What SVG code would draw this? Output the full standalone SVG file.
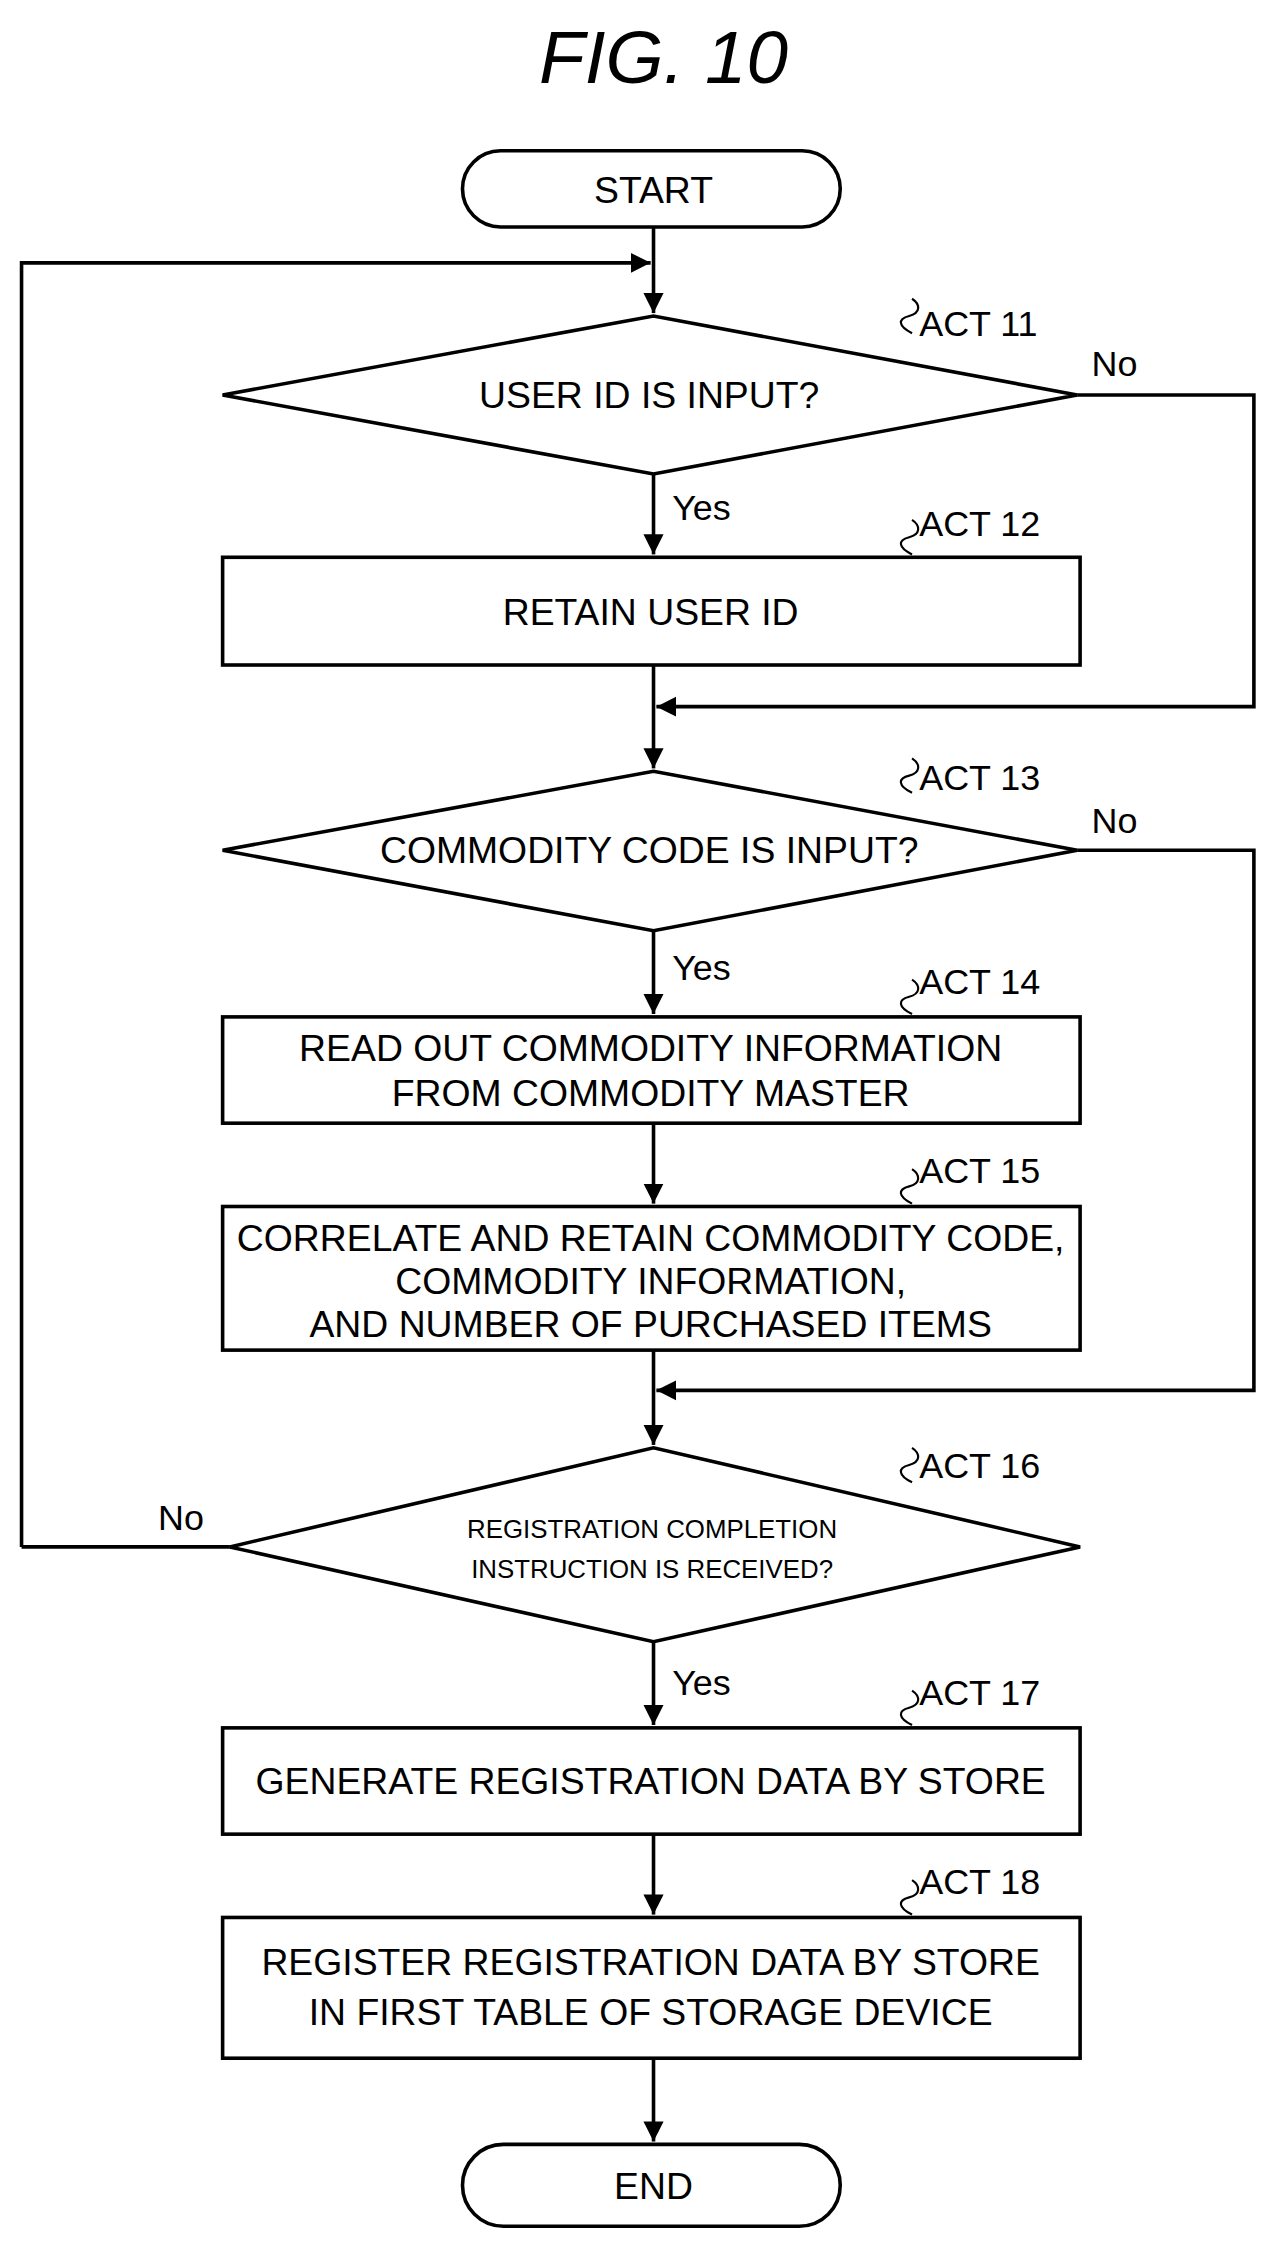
<svg xmlns="http://www.w3.org/2000/svg" width="1274" height="2245" viewBox="0 0 1274 2245">
<defs>
<marker id="ah" markerWidth="10" markerHeight="10" refX="9" refY="5" orient="auto" markerUnits="userSpaceOnUse"><path d="M0,0 L10,5 L0,10 z" fill="#000"/></marker>
<marker id="av" viewBox="0 0 10 10" markerWidth="14" markerHeight="18" refX="10" refY="5" orient="auto" markerUnits="userSpaceOnUse"><path d="M0,0 L10,5 L0,10 z" fill="#000"/></marker>
</defs>
<style>
.s{fill:#fff;stroke:#000;stroke-width:2.5}
.t{font-family:"Liberation Sans",Arial,sans-serif;font-size:26px;text-anchor:middle;fill:#000}
.sm{font-size:18px}
.a{font-family:"Liberation Sans",Arial,sans-serif;font-size:25px;fill:#000}
.c{fill:none;stroke:#000;stroke-width:2.5}
.q{fill:none;stroke:#000;stroke-width:1.5}
</style>
<rect width="1274" height="2245" fill="#fff"/>
<g transform="scale(1.4363)">
<text x="462" y="58" style="font-family:'Liberation Sans',Arial,sans-serif;font-size:52px;font-style:italic" text-anchor="middle">FIG. 10</text>
<g id="connectors">
<path class="c" d="M455,158 V218" marker-end="url(#av)"/>
<path class="c" d="M15,1077 V183 H453" marker-end="url(#av)"/>
<path class="c" d="M455,330 V386" marker-end="url(#av)"/>
<path class="c" d="M455,463 V535" marker-end="url(#av)"/>
<path class="c" d="M750,275 H873 V492 H457" marker-end="url(#av)"/>
<path class="c" d="M455,648 V706" marker-end="url(#av)"/>
<path class="c" d="M455,782 V838" marker-end="url(#av)"/>
<path class="c" d="M455,940 V1006" marker-end="url(#av)"/>
<path class="c" d="M750,592 H873 V968 H457" marker-end="url(#av)"/>
<path class="c" d="M160,1077 H15"/>
<path class="c" d="M455,1143 V1201" marker-end="url(#av)"/>
<path class="c" d="M455,1277 V1333" marker-end="url(#av)"/>
<path class="c" d="M455,1433 V1491" marker-end="url(#av)"/>
<text class="a" x="760" y="262">No</text>
<text class="a" x="760" y="580">No</text>
<text class="a" x="110" y="1065">No</text>
<text class="a" x="468" y="362">Yes</text>
<text class="a" x="468" y="682">Yes</text>
<text class="a" x="468" y="1180">Yes</text>
</g>
<g id="start"><rect class="s" x="322" y="105" width="263" height="53" rx="26.5"/><text class="t" x="455" y="141">START</text></g>
<g id="act11"><polygon class="s" points="155,275 455,220 750,275 455,330"/><text class="t" x="452" y="284">USER ID IS INPUT?</text>
<path class="q" d="M635,232 c-10,-5 -10,-10 -2,-12 s8,-8 2,-12"/><text class="a" x="640" y="234">ACT 11</text></g>
<g id="act12"><rect class="s" x="155" y="388" width="597" height="75"/><text class="t" x="453" y="435">RETAIN USER ID</text>
<path class="q" d="M635,386 c-10,-5 -10,-10 -2,-12 s8,-8 2,-12"/><text class="a" x="640" y="373">ACT 12</text></g>
<g id="act13"><polygon class="s" points="155,592 455,537 750,592 455,648"/><text class="t" x="452" y="601">COMMODITY CODE IS INPUT?</text>
<path class="q" d="M635,552 c-10,-5 -10,-10 -2,-12 s8,-8 2,-12"/><text class="a" x="640" y="550">ACT 13</text></g>
<g id="act14"><rect class="s" x="155" y="708" width="597" height="74"/><text class="t" x="453" y="739">READ OUT COMMODITY INFORMATION</text><text class="t" x="453" y="770">FROM COMMODITY MASTER</text>
<path class="q" d="M635,706 c-10,-5 -10,-10 -2,-12 s8,-8 2,-12"/><text class="a" x="640" y="692">ACT 14</text></g>
<g id="act15"><rect class="s" x="155" y="840" width="597" height="100"/><text class="t" x="453" y="871">CORRELATE AND RETAIN COMMODITY CODE,</text><text class="t" x="453" y="901">COMMODITY INFORMATION,</text><text class="t" x="453" y="931">AND NUMBER OF PURCHASED ITEMS</text>
<path class="q" d="M635,838 c-10,-5 -10,-10 -2,-12 s8,-8 2,-12"/><text class="a" x="640" y="824">ACT 15</text></g>
<g id="act16"><polygon class="s" points="160,1077 455,1008 752,1077 455,1143"/><text class="t sm" x="454" y="1071">REGISTRATION COMPLETION</text><text class="t sm" x="454" y="1099">INSTRUCTION IS RECEIVED?</text>
<path class="q" d="M635,1032 c-10,-5 -10,-10 -2,-12 s8,-8 2,-12"/><text class="a" x="640" y="1029">ACT 16</text></g>
<g id="act17"><rect class="s" x="155" y="1203" width="597" height="74"/><text class="t" x="453" y="1249">GENERATE REGISTRATION DATA BY STORE</text>
<path class="q" d="M635,1201 c-10,-5 -10,-10 -2,-12 s8,-8 2,-12"/><text class="a" x="640" y="1187">ACT 17</text></g>
<g id="act18"><rect class="s" x="155" y="1335" width="597" height="98"/><text class="t" x="453" y="1375">REGISTER REGISTRATION DATA BY STORE</text><text class="t" x="453" y="1410">IN FIRST TABLE OF STORAGE DEVICE</text>
<path class="q" d="M635,1333 c-10,-5 -10,-10 -2,-12 s8,-8 2,-12"/><text class="a" x="640" y="1319">ACT 18</text></g>
<g id="end"><rect class="s" x="322" y="1493" width="263" height="57" rx="28.5"/><text class="t" x="455" y="1531">END</text></g>
</g>
</svg>
